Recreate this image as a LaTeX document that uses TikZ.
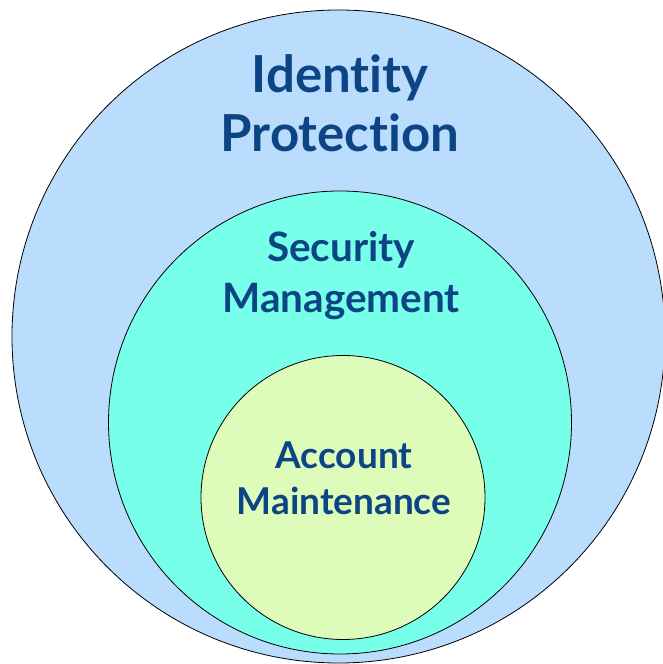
\documentclass[tikz,border=0pt]{standalone}
\usepackage{fontspec}
\setmainfont[Ligatures={NoCommon}]{Lato}
\definecolor{ringout}{RGB}{187,221,253}
\definecolor{ringmid}{RGB}{119,255,234}
\definecolor{ringin}{RGB}{221,252,185}
\definecolor{labelblue}{RGB}{12,68,132}
\tikzset{
  ring/.style={circle, draw=black, line width=0.8pt, inner sep=0pt},
  ringlabel/.style={anchor=base, text=labelblue, font=\bfseries, inner sep=0pt}
}
\begin{document}
\begin{tikzpicture}[x=1pt,y=1pt]
\useasboundingbox (0,0) rectangle (663,664);
\clip (0,0) rectangle (663,664);
% nested circles, outermost first
\node[ring, fill=ringout, minimum size=653pt] (outer) at (338.5,327.5) {};
\node[ring, fill=ringmid, minimum size=463pt] (middle) at (340,241.5) {};
\node[ring, fill=ringin, minimum size=284pt] (inner) at (343,166.5) {};
% labels
\node[ringlabel, font=\bfseries\fontsize{51}{59}\selectfont] (id1) at (340,571) {Identity};
\node[ringlabel, font=\bfseries\fontsize{51}{59}\selectfont] (id2) at (340,512) {Protection};
\node[ringlabel, font=\bfseries\fontsize{40.5}{50}\selectfont] (sec1) at (341,402) {Security};
\node[ringlabel, font=\bfseries\fontsize{40.5}{50}\selectfont] (sec2) at (341,351) {Management};
\node[ringlabel, font=\bfseries\fontsize{37}{46}\selectfont] (acc1) at (344,195) {Account};
\node[ringlabel, font=\bfseries\fontsize{37}{46}\selectfont] (acc2) at (344,149) {Maintenance};
\end{tikzpicture}
\end{document}
